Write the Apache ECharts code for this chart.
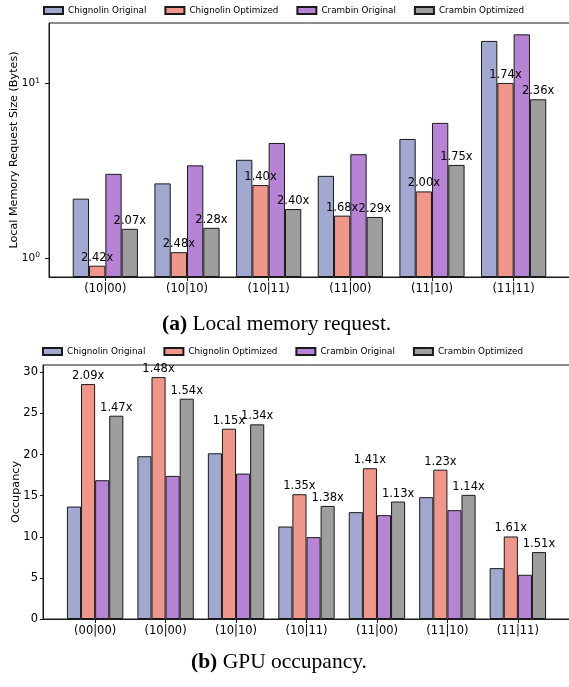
<!DOCTYPE html>
<html>
<head>
<meta charset="utf-8">
<script src="https://cdn.jsdelivr.net/npm/echarts@6/dist/echarts.min.js"></script>
<style>
  html, body { margin: 0; padding: 0; background: #fff; }
  #chart { width: 569px; height: 687px; }
</style>
</head>
<body>
<div id="chart"></div>
<script>
// ---- (a) local memory request size, log scale ----
const catsA = ['(10|00)', '(10|10)', '(10|11)', '(11|00)', '(11|10)', '(11|11)'];
const chigOrigA = [2.19, 2.68, 3.66, 2.96, 4.82, 17.6];
const chigOptA  = [0.903, 1.08, 2.62, 1.75, 2.41, 10.1];
const cramOrigA = [3.04, 3.40, 4.57, 3.94, 5.96, 19.2];
const cramOptA  = [1.47, 1.49, 1.91, 1.72, 3.42, 8.14];
const chigRatioA = ['2.42x', '2.48x', '1.40x', '1.68x', '2.00x', '1.74x'];
const cramRatioA = ['2.07x', '2.28x', '2.40x', '2.29x', '1.75x', '2.36x'];
const majorTicksA = [1, 10];
const minorTicksA = [0.8, 0.9, 2, 3, 4, 5, 6, 7, 8, 9, 20];

// ---- (b) GPU occupancy ----
const catsB = ['(00|00)', '(10|00)', '(10|10)', '(10|11)', '(11|00)', '(11|10)', '(11|11)'];
const chigOrigB = [13.68, 19.80, 20.16, 11.25, 13.00, 14.82, 6.19];
const chigOptB  = [28.58, 29.43, 23.15, 15.18, 18.34, 18.17, 10.04];
const cramOrigB = [16.88, 17.41, 17.69, 9.96, 12.63, 13.24, 5.38];
const cramOptB  = [24.73, 26.80, 23.68, 13.76, 14.29, 15.10, 8.14];
const chigRatioB = ['2.09x', '1.48x', '1.15x', '1.35x', '1.41x', '1.23x', '1.61x'];
const cramRatioB = ['1.47x', '1.54x', '1.34x', '1.38x', '1.13x', '1.14x', '1.51x'];
const ticksB = [0, 5, 10, 15, 20, 25, 30];

const seriesNames = ['Chignolin Original', 'Chignolin Optimized', 'Crambin Original', 'Crambin Optimized'];
const colors = ['#a2a9d0', '#f0978b', '#b784d5', '#9e9e9e'];

const SANS = 'DejaVu Sans';
const SERIF = 'Liberation Serif';
const edge = '#1a1a1a';

function idxPairs(vals) { return vals.map((v, i) => [i, v]); }

function xAxisFor(cats, gridIndex, lo, hi) {
  const idx = cats.map((c, i) => i);
  return {
    type: 'value', gridIndex, min: lo, max: hi,
    splitLine: { show: false },
    axisLine: { show: true, onZero: false, lineStyle: { color: edge, width: 1 } },
    axisTick: { show: true, customValues: idx, length: 4, lineStyle: { color: edge } },
    axisLabel: {
      customValues: idx, margin: 6,
      formatter: v => cats[Math.round(v)],
      fontFamily: SANS, fontSize: 11.5, color: '#000'
    }
  };
}

function barSeries(name, vals, k, xi, yi, width, ratios) {
  const s = {
    name, type: 'bar', xAxisIndex: xi, yAxisIndex: yi,
    data: idxPairs(vals),
    barWidth: width, barGap: '0%',
    itemStyle: { color: colors[k], borderColor: edge, borderWidth: 1 },
    emphasis: { disabled: true },
    animation: false
  };
  if (ratios) {
    s.label = {
      show: true, position: 'top', distance: 2,
      formatter: p => ratios[p.dataIndex],
      fontFamily: SANS, fontSize: 11.5, color: '#000'
    };
  }
  return s;
}

const legendBase = {
  itemWidth: 19, itemHeight: 7, itemGap: 18, padding: 0, icon: 'rect',
  selectedMode: false,
  textStyle: { fontFamily: SANS, fontSize: 8.8, color: '#000' },
  data: seriesNames
};

const captionStyle = {
  fontFamily: SERIF, fontSize: 21.5, fontWeight: 'normal', color: '#000',
  rich: { b: { fontFamily: SERIF, fontSize: 21.5, fontWeight: 'bold', color: '#000' } }
};

const chart = echarts.init(document.getElementById('chart'), null, { renderer: 'canvas' });

chart.setOption({
  animation: false,
  title: [
    { text: '{b|(a)} Local memory request.', left: 162, top: 313, padding: 0, textStyle: captionStyle },
    { text: '{b|(b)} GPU occupancy.', left: 191, top: 651, padding: 0, textStyle: captionStyle }
  ],
  legend: [
    Object.assign({}, legendBase, { left: 43, top: 6 }),
    Object.assign({}, legendBase, { left: 42, top: 347 })
  ],
  grid: [
    { left: 49, top: 23, width: 521, height: 254, show: true, borderColor: edge, borderWidth: 1,
      containLabel: false, outerBoundsMode: 'none' },
    { left: 43, top: 365, width: 527, height: 254, show: true, borderColor: edge, borderWidth: 1,
      containLabel: false, outerBoundsMode: 'none' }
  ],
  xAxis: [
    xAxisFor(catsA, 0, -0.69, 5.69),
    xAxisFor(catsB, 1, -0.74, 6.74)
  ],
  yAxis: [
    {
      type: 'log', logBase: 10, gridIndex: 0, min: 0.778, max: 22.3, startValue: 0.778,
      name: 'Local Memory Request Size (Bytes)', nameLocation: 'middle', nameGap: 29,
      nameMoveOverlap: false,
      nameTextStyle: { fontFamily: SANS, fontSize: 11.2, color: '#000' },
      splitLine: { show: false },
      axisLine: { show: true, onZero: false, lineStyle: { color: edge } },
      axisTick: { show: true, customValues: majorTicksA, length: 4, lineStyle: { color: edge } },
      axisLabel: {
        customValues: majorTicksA, margin: 9,
        formatter: v => '{m|10}{s|' + Math.round(Math.log10(v)) + '}',
        rich: {
          m: { fontFamily: SANS, fontSize: 10.5, color: '#000', lineHeight: 13 },
          s: { fontFamily: SANS, fontSize: 7.5, color: '#000', verticalAlign: 'top', lineHeight: 13 }
        }
      }
    },
    {
      // minor log ticks at 2..9 of each decade
      type: 'log', logBase: 10, gridIndex: 0, min: 0.778, max: 22.3,
      splitLine: { show: false },
      axisLine: { show: false, onZero: false },
      axisTick: { show: true, customValues: minorTicksA, length: 2.5, lineStyle: { color: edge } },
      axisLabel: { show: false }
    },
    {
      type: 'value', gridIndex: 1, min: 0, max: 30.9,
      name: 'Occupancy', nameLocation: 'middle', nameGap: 21,
      nameMoveOverlap: false,
      nameTextStyle: { fontFamily: SANS, fontSize: 11.2, color: '#000' },
      splitLine: { show: false },
      axisLine: { show: true, onZero: false, lineStyle: { color: edge } },
      axisTick: { show: true, customValues: ticksB, length: 3, lineStyle: { color: edge } },
      axisLabel: { customValues: ticksB, margin: 5, fontFamily: SANS, fontSize: 11.5, color: '#000' }
    }
  ],
  series: [
    barSeries(seriesNames[0], chigOrigA, 0, 0, 0, 16.3),
    barSeries(seriesNames[1], chigOptA, 1, 0, 0, 16.3, chigRatioA),
    barSeries(seriesNames[2], cramOrigA, 2, 0, 0, 16.3),
    barSeries(seriesNames[3], cramOptA, 3, 0, 0, 16.3, cramRatioA),
    barSeries(seriesNames[0], chigOrigB, 0, 1, 2, 14.1),
    barSeries(seriesNames[1], chigOptB, 1, 1, 2, 14.1, chigRatioB),
    barSeries(seriesNames[2], cramOrigB, 2, 1, 2, 14.1),
    barSeries(seriesNames[3], cramOptB, 3, 1, 2, 14.1, cramRatioB)
  ]
});
</script>
</body>
</html>
